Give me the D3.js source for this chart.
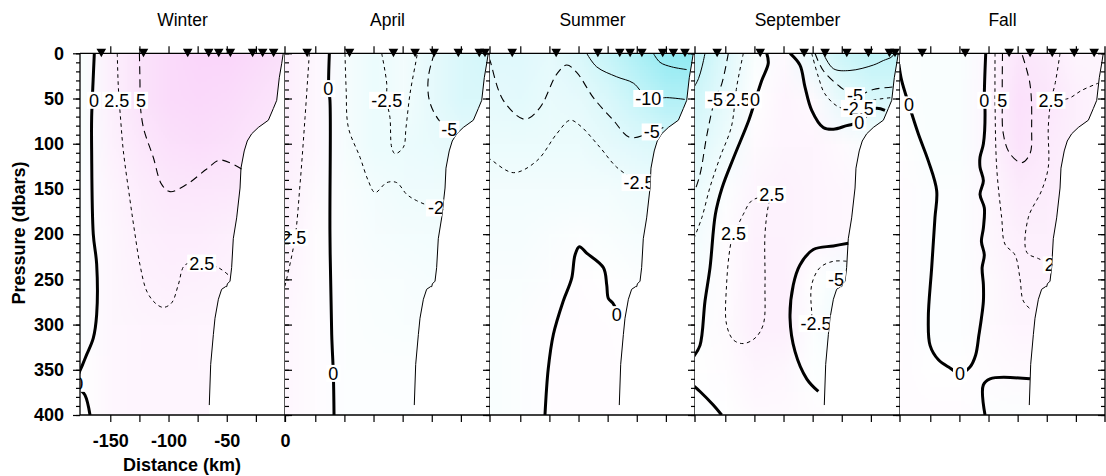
<!DOCTYPE html>
<html>
<head>
<meta charset="utf-8">
<script src="https://cdnjs.cloudflare.com/ajax/libs/d3/7.8.5/d3.min.js"></script>
<style>
  body { margin: 0; background: #fff; }
  svg { display: block; }
  text { font-family: "Liberation Sans", Arial, Helvetica, sans-serif; fill: #000; }
</style>
</head>
<body>
<div class="sections"></div>
<script>
// ---- data (distance km, pressure dbar) ----
var seasons = ['Winter', 'April', 'Summer', 'September', 'Fall'];
var pressureTicks = [0, 50, 100, 150, 200, 250, 300, 350, 400];
var distanceTicks = [-150, -100, -50, 0];

// shading grid: rows = gridDbar, cols = gridKm
var gridKm = [-175, -150, -125, -100, -75, -50, -25, 0];
var gridDbar = [0, 50, 100, 150, 200, 250, 300, 350, 400];
var winterGrid = [
  [-1, 3, 5.5, 7, 8, 8, 7, 6],
  [-1, 3, 5.5, 7, 7.5, 7, 6, 5],
  [-1, 2.5, 4.5, 6, 6.5, 6, 5, 4],
  [-0.5, 2, 3.5, 4.5, 4.7, 4.6, 4, 3],
  [-0.5, 1.5, 3, 3.5, 3.5, 3, 2.5, 2],
  [-0.5, 1.5, 2.5, 3, 2.7, 2.3, 2, 2],
  [-0.5, 1.5, 2, 2.2, 2, 2, 2, 2],
  [0, 1.5, 2, 2, 2, 2, 2, 2],
  [0, 1.5, 2, 2, 2, 2, 2, 2]
];
var aprilGrid = [
  [3, 1.5, -1.5, -3, -2, -4, -6, -7],
  [3, 1.5, -1.5, -3, -2, -4, -6, -6],
  [3, 1.5, -1.5, -3, -3, -3.5, -4, -4],
  [2.5, 1, -1, -2, -2.5, -2.6, -2.5, -2.5],
  [2.5, 0.5, -0.8, -1.5, -1.8, -2, -2, -2],
  [2, 0.5, -0.5, -1, -1.2, -1.5, -1.5, -1.5],
  [1.5, 0.5, -0.5, -0.8, -1, -1, -1, -1],
  [1.5, 0.5, -0.5, -0.5, -0.5, -0.5, -0.5, -0.5],
  [1.5, 0.5, -0.5, -0.5, -0.5, -0.5, -0.5, -0.5]
];
var summerGrid = [
  [-5, -5, -4, -6, -9, -13, -17, -18],
  [-4, -4.5, -3.5, -4, -6, -9, -12, -12],
  [-3, -3, -3, -3, -4, -5, -6, -6],
  [-2, -2, -2, -2, -2, -2.5, -3, -3],
  [-1.5, -1.5, -1, -0.5, -1, -1.5, -1.5, -1.5],
  [-1, -1, -0.5, 0.3, 0, -0.5, -0.5, -0.5],
  [-1, -0.5, 0.3, 0.5, 0.3, 0, 0, 0],
  [-1, -0.5, 0.3, 0.5, 0.5, 0, 0, 0],
  [-1, -0.5, 0.3, 0.5, 0.5, 0, 0, 0]
];
var septemberGrid = [
  [-10, -5, -1, 1, -4, -8, -10, -10],
  [-7, -4, 0, 2, 1, -4, -6, -6],
  [-5, -2.5, 1, 2, 2, 1, -1, -1],
  [-3, -0.5, 2, 2.5, 2, 1.5, 1, 1],
  [-2, 0.5, 2.5, 2.5, 2, 1.5, 1, 1],
  [-1, 0.5, 3, 3, 0, -2, -3, -3],
  [-0.5, 0.8, 3, 3, -0.5, -3, -3, -3],
  [0, 0.5, 2, 1.5, -0.3, -1, -1, -1],
  [-0.5, 0, 1, 1, 0.5, 0, 0, 0]
];
var fallGrid = [
  [-0.5, -1, -1, 1.5, 5, 4, 2, 2],
  [-0.5, -1, -1, 2, 6, 5, 3, 2],
  [0, -1, -1, 2, 5.5, 4, 3, 2],
  [0.5, -0.5, -0.5, 1.5, 4, 3.5, 2.5, 2],
  [0.5, -0.5, -0.5, 1.5, 3, 3, 2, 2],
  [0.5, -0.5, -0.5, 1, 2.5, 2.5, 2, 2],
  [0.5, -0.5, -0.5, 1, 2, 2, 2, 2],
  [0.5, 0, 0, 0.5, 1, 1, 1, 1],
  [0.5, 0.5, 0.5, -0.5, -0.5, 0, 0, 0]
];

// bottom profile (same section every season)
var bottomProfile = [[-1.5, 0], [-2.8, 11], [-4.9, 27], [-7.1, 52], [-10, 61], [-14.3, 74], [-22.9, 82],
  [-28.6, 89], [-32.4, 97], [-35, 108], [-37.8, 127], [-38.6, 149], [-41.5, 182], [-44.4, 205],
  [-45.8, 237], [-47.2, 252], [-49.5, 255], [-50, 258], [-51, 258], [-54.4, 261], [-57.2, 272],
  [-60.1, 293], [-61.5, 311], [-63.8, 344], [-65, 389]];

// station positions (km)
var winterStations = [-157.7, -121.5, -83.5, -65.5, -56.9, -46.9, -27.8, -19.2, -9.8];
var aprilStations = [-157, -120.6, -82.9, -64.3, -48, -27.2, -9.2, -4.3];
var summerStations = [-156.9, -119.2, -83.4, -64.6, -55.7, -45.6, -27.7, -18.6, -8.6];
var septemberStations = [-157, -120, -82.3, -64.3, -45.7, -27.1, -9.1, -4.3];
var fallStations = [-157, -120, -82.3, -64.3, -45.3, -26.4, -9.3];

// contour lines
var winterContours = [
  { level: 0, pts: [[-163.7, 0], [-164.6, 26], [-166, 71], [-166, 108], [-164.6, 200], [-161.7, 233], [-161.7, 289], [-164.6, 315], [-170.2, 333], [-173.7, 344], [-178, 358], [-178, 368], [-171.7, 378], [-167.4, 400]] },
  { level: 2.5, pts: [[-144, 0], [-143.1, 37], [-141, 75], [-138.8, 108], [-133, 163], [-128.8, 200], [-124.5, 234], [-118.7, 263], [-111.6, 276], [-104.5, 281], [-97.3, 276], [-91.6, 256], [-85.8, 234], [-71.5, 232], [-57.3, 237], [-48.7, 245]] },
  { level: 5, pts: [[-125, 0], [-124.5, 34], [-124.5, 52], [-121.6, 82], [-113.1, 115], [-105.9, 145], [-98.7, 153], [-84.4, 145], [-67.2, 128], [-55.8, 118], [-37.2, 128]] }
];
var aprilContours = [
  { level: 0, pts: [[-137.9, 0], [-138.5, 39], [-137.4, 52], [-137.4, 200], [-135.9, 311], [-134.5, 354], [-133.9, 400]] },
  { level: 2.5, pts: [[-155.1, 0], [-158.8, 71], [-163.1, 145], [-167.4, 204], [-174.5, 249], [-177, 262]] },
  { level: -2.5, pts: [[-124.5, 0], [-123.5, 40], [-121.6, 82], [-111.6, 115], [-104.5, 141], [-98.7, 154], [-88.7, 143], [-80.1, 143], [-71.5, 156], [-62.9, 163], [-47.2, 171], [-40, 173]] },
  { level: -2.5, pts: [[-93, 0], [-88.7, 33], [-88.7, 52], [-85.9, 71], [-84.4, 104], [-81.6, 111], [-74.4, 104], [-72.1, 82], [-68.7, 45], [-62.9, 4], [-62.5, 0]] },
  { level: -5, pts: [[-47.8, 0], [-52.9, 26], [-52.1, 52], [-44.4, 73], [-34.9, 84], [-30, 87]] }
];
var summerContours = [
  { level: 0, pts: [[-128.8, 400], [-126, 349], [-121.6, 311], [-113.1, 274], [-105.9, 249], [-103, 223], [-99.3, 214], [-93, 221], [-78.7, 237], [-75.8, 256], [-74.4, 271], [-70.7, 276], [-67, 285]] },
  { level: -2.5, pts: [[-178, 116], [-176, 117], [-156, 132], [-135.9, 119], [-118.7, 89], [-107.3, 74], [-98.7, 80], [-81.6, 104], [-67.2, 126], [-48, 143], [-44, 146]] },
  { level: -5, pts: [[-177, 5], [-176, 8], [-164.6, 52], [-146, 73], [-133.1, 60], [-118.7, 23], [-110.2, 13], [-101.6, 21], [-87.3, 49], [-70.1, 74], [-55.8, 93], [-37.2, 87], [-27.2, 82]] },
  { level: -10, pts: [[-93, 0], [-84.4, 15], [-67.2, 26], [-52.9, 33], [-40.1, 50], [-24.3, 49], [-8.6, 51]] },
  { level: -15, pts: [[-35.8, 0], [-30, 10], [-20, 15], [-7.1, 18]] }
];
var septemberContours = [
  { level: -10, pts: [[-167.4, 0], [-170, 15], [-173, 28], [-177, 38]] },
  { level: -5, pts: [[-147.4, 0], [-153.1, 34], [-158.8, 51], [-165.6, 89], [-171.7, 134], [-177, 155]] },
  { level: -2.5, pts: [[-134.5, 0], [-140.2, 37], [-141.5, 51], [-144.9, 82], [-154.5, 115], [-163.1, 148], [-170.2, 182], [-177, 205]] },
  { level: 0, pts: [[-114.4, 0], [-113.1, 11], [-118.7, 30], [-124, 51], [-129.8, 74], [-142.7, 115], [-152.8, 149], [-158.5, 178], [-163.1, 237], [-167.4, 274], [-171.7, 323], [-177, 335]] },
  { level: 0, pts: [[-177, 368], [-171.7, 374], [-160.3, 389], [-153.1, 400]] },
  { level: 0, pts: [[-94.4, 0], [-85.9, 13], [-81.6, 37], [-75.8, 63], [-65.9, 82], [-57.2, 84], [-45.8, 80], [-34.9, 76], [-21.5, 61], [-12.9, 63]] },
  { level: -2.5, pts: [[-75.8, 0], [-70.1, 26], [-64.4, 45], [-51.5, 60], [-37.2, 60], [-22.9, 52], [-7.1, 49]] },
  { level: -5, pts: [[-73, 0], [-65.9, 19], [-51.5, 37], [-38.6, 47], [-22.9, 40], [-4.3, 37]] },
  { level: -10, pts: [[-65.9, 0], [-57.2, 17], [-42.9, 19], [-22.9, 13], [-14.3, 8], [-7.1, 4], [-5, 0]] },
  { level: 2.5, pts: [[-110.2, 156], [-127.3, 163], [-134.5, 178], [-138.8, 189], [-143, 199], [-145.9, 215], [-148.9, 256], [-148.9, 300], [-143, 317], [-134.5, 321], [-124.5, 315], [-117.4, 300], [-115.9, 256], [-115.9, 200], [-113.1, 169], [-110.2, 156]] },
  { level: 0, pts: [[-44.4, 210], [-57.2, 213], [-74.4, 217], [-85.9, 234], [-91.6, 256], [-94.4, 293], [-90.1, 330], [-80.1, 360], [-70.1, 374]] },
  { level: -2.5, pts: [[-45.8, 230], [-57.2, 230], [-68.7, 237], [-75.8, 256], [-75.8, 286], [-74.4, 299], [-64.4, 302]] },
  { level: -5, pts: [[-48, 243], [-55, 250], [-50, 256]] }
];
var fallContours = [
  { level: 0, pts: [[-177, 12], [-174.6, 30], [-168.3, 57], [-160.3, 89], [-151.7, 119], [-144.5, 152], [-146, 182], [-148.8, 237], [-151.7, 293], [-150.2, 323], [-143, 339], [-133.1, 348], [-124.5, 354], [-115.9, 347], [-111.1, 334], [-108.2, 311], [-106.1, 293], [-104.4, 274], [-104.4, 256], [-105.5, 237], [-103.6, 223], [-106.1, 208], [-104.4, 193], [-103.6, 171], [-107.3, 156], [-104.4, 141], [-107.3, 126], [-107.3, 115], [-104.4, 100], [-103, 63], [-103.6, 52], [-102.4, 0]] },
  { level: 0, pts: [[-103, 400], [-104.5, 367], [-98.7, 360], [-64.4, 360]] },
  { level: 5, pts: [[-88, 0], [-88.2, 52], [-87.3, 89], [-81.6, 111], [-71.5, 121], [-64.4, 111], [-63, 82], [-64.4, 34], [-71.5, 0]] },
  { level: 2.5, pts: [[-94.4, 0], [-94.4, 52], [-93, 126], [-88.7, 182], [-85.9, 211], [-77.3, 223], [-73, 249], [-70.1, 274], [-63, 284]] },
  { level: 2.5, pts: [[-38.6, 0], [-42.9, 34], [-46.4, 52], [-48.7, 82], [-48.7, 126], [-54.5, 152], [-65.9, 182], [-67.2, 220], [-57.2, 227], [-45, 234]] },
  { level: 2.5, pts: [[-46.4, 52], [-31.5, 50], [-20, 41], [-5.8, 33]] }
];

// contour labels [km, dbar, text]
var winterLabels = [[-164, 52, '0'], [-144.5, 52, '2.5'], [-123.6, 52, '5'], [-71.5, 232, '2.5'], [-177.5, 365, '0']];
var aprilLabels = [[-138.8, 39, '0'], [-88.7, 52, '-2.5'], [-34.9, 84, '-5'], [-40, 171, '-2.5'], [-168.5, 204, '2.5'], [-134.5, 354, '0']];
var summerLabels = [[-40.1, 50, '-10'], [-37.2, 87, '-5'], [-48, 143, '-2.5'], [-67.2, 289, '0']];
var septemberLabels = [[-141.4, 51.5, '-2.5'], [-158.8, 51.5, '-5'], [-124.5, 51.5, '0'], [-38.6, 47, '-5'], [-35.8, 61, '-2.5'], [-34.9, 76, '0'],
  [-110.2, 156, '2.5'], [-143, 199, '2.5'], [-55, 250, '-5'], [-72, 299, '-2.5']];
var fallLabels = [[-168.3, 57, '0'], [-103.6, 52, '0'], [-88.2, 52, '5'], [-46.4, 52, '2.5'], [-41, 234, '2.5'], [-124.5, 354, '0']];

// ---- layout ----
var margin = { top: 53.3, left: 80 };
var panelW = 205, panelH = 361.7;
var width = 1106, height = 476;

var panels = [
  { name: seasons[0], grid: winterGrid, contours: winterContours, labels: winterLabels, stations: winterStations },
  { name: seasons[1], grid: aprilGrid, contours: aprilContours, labels: aprilLabels, stations: aprilStations },
  { name: seasons[2], grid: summerGrid, contours: summerContours, labels: summerLabels, stations: summerStations },
  { name: seasons[3], grid: septemberGrid, contours: septemberContours, labels: septemberLabels, stations: septemberStations },
  { name: seasons[4], grid: fallGrid, contours: fallContours, labels: fallLabels, stations: fallStations }
];

var svg = d3.select('.sections')
  .append('svg')
    .attr('width', width)
    .attr('height', height);

var defs = svg.append('defs');

var yScale = d3.scaleLinear()
  .domain([0, 400])
  .range([margin.top, margin.top + panelH]);

// value -> colour (pink for positive, cyan for negative)
function shade(v) {
  if (v >= 0) return d3.interpolateRgb('#ffffff', '#f7c2f7')(Math.min(v / 12, 1));
  return d3.interpolateRgb('#ffffff', '#82e8f1')(Math.min(-v / 20, 1));
}

function lineStyle(level) {
  if (level === 0) return { w: 3, dash: null };
  if (Math.abs(level) === 2.5) return { w: 1, dash: '3.5,3.5' };
  if (Math.abs(level) === 5) return { w: 1.1, dash: '8,5' };
  return { w: 1, dash: null };
}

panels.forEach(function (p, i) {
  var x0 = margin.left + i * panelW;
  var xScale = d3.scaleLinear()
    .domain([-176, 0])
    .range([x0, x0 + panelW]);

  var line = d3.line()
    .x(d => xScale(d[0]))
    .y(d => yScale(d[1]));

  // clip paths: whole panel, and water column left of the bottom profile
  defs.append('clipPath').attr('id', 'panel' + i)
    .append('rect')
      .attr('x', x0).attr('y', margin.top)
      .attr('width', panelW).attr('height', panelH);
  var water = [[-176, 0]].concat(bottomProfile, [[-65, 400], [-176, 400]]);
  defs.append('clipPath').attr('id', 'water' + i)
    .append('path')
      .attr('d', line(water) + 'Z');

  // shading: small grid drawn to a canvas, stretched (smoothed) over the panel
  var canvas = document.createElement('canvas');
  canvas.width = gridKm.length;
  canvas.height = gridDbar.length;
  var ctx = canvas.getContext('2d');
  var img = ctx.createImageData(canvas.width, canvas.height);
  p.grid.forEach(function (row, r) {
    row.forEach(function (v, c) {
      var col = d3.rgb(shade(v));
      var k = (r * canvas.width + c) * 4;
      img.data[k] = col.r; img.data[k + 1] = col.g; img.data[k + 2] = col.b; img.data[k + 3] = 255;
    });
  });
  ctx.putImageData(img, 0, 0);
  svg.append('image')
    .attr('href', canvas.toDataURL())
    .attr('x', xScale(gridKm[0] - 12.5))
    .attr('y', yScale(gridDbar[0] - 25))
    .attr('width', xScale(12.5) - xScale(gridKm[0] - 12.5))
    .attr('height', yScale(425) - yScale(-25))
    .attr('preserveAspectRatio', 'none')
    .attr('clip-path', 'url(#water' + i + ')');

  // contours
  var cg = svg.append('g').attr('clip-path', 'url(#panel' + i + ')');
  cg.selectAll('path.contour')
    .data(p.contours)
    .enter()
    .append('path')
      .attr('class', 'contour')
      .attr('d', d => line.curve(d3.curveCatmullRom.alpha(0.5))(d.pts))
      .attr('fill', 'none')
      .attr('stroke', '#000')
      .attr('stroke-width', d => lineStyle(d.level).w)
      .attr('stroke-dasharray', d => lineStyle(d.level).dash)
      .attr('stroke-linejoin', 'round');
  line.curve(d3.curveLinear);

  // bottom profile
  cg.append('path')
    .attr('d', line(bottomProfile))
    .attr('fill', 'none')
    .attr('stroke', '#000')
    .attr('stroke-width', 1);

  // contour labels with white boxes
  var lg = svg.append('g').attr('clip-path', 'url(#water' + i + ')');
  p.labels.forEach(function (l) {
    var g = lg.append('g');
    var t = g.append('text')
      .attr('x', xScale(l[0]))
      .attr('y', yScale(l[1]) + 6.5)
      .attr('text-anchor', 'middle')
      .style('font-size', '18px')
      .text(l[2]);
    var bb = t.node().getBBox();
    g.insert('rect', 'text')
      .attr('x', bb.x - 2)
      .attr('y', yScale(l[1]) - 8.5)
      .attr('width', bb.width + 4)
      .attr('height', 17)
      .attr('fill', '#fff');
  });

  // frame
  svg.append('line')
    .attr('x1', x0).attr('x2', x0 + panelW)
    .attr('y1', margin.top).attr('y2', margin.top)
    .attr('stroke', '#000').attr('stroke-width', 1.3);
  svg.append('line')
    .attr('x1', x0).attr('x2', x0 + panelW)
    .attr('y1', margin.top + panelH).attr('y2', margin.top + panelH)
    .attr('stroke', '#000').attr('stroke-width', 1.3);
  svg.append('line')
    .attr('x1', x0 + panelW).attr('x2', x0 + panelW)
    .attr('y1', margin.top - 7).attr('y2', margin.top + panelH + 7)
    .attr('stroke', '#000').attr('stroke-width', 1.3);

  // top and bottom ticks every 25 km
  var kmTicks = d3.range(-150, 0, 25);
  var bottomAxis = d3.axisBottom(xScale)
    .tickValues(i === 0 ? kmTicks.concat([0]) : kmTicks)
    .tickSize(7)
    .tickPadding(12)
    .tickFormat(d => (i === 0 && distanceTicks.indexOf(d) >= 0) ? d : '');
  svg.append('g')
    .attr('class', 'axis')
    .attr('transform', `translate(0, ${margin.top + panelH})`)
    .call(bottomAxis);
  svg.append('g')
    .attr('class', 'axis')
    .attr('transform', `translate(0, ${margin.top})`)
    .call(d3.axisTop(xScale).tickValues(kmTicks).tickSize(7).tickFormat(''));

  // stations
  svg.selectAll('path.station' + i)
    .data(p.stations)
    .enter()
    .append('path')
      .attr('class', 'station' + i)
      .attr('d', d => {
        var x = xScale(d), y = margin.top;
        return `M${x - 4.8},${y - 4.5}L${x + 4.8},${y - 4.5}L${x},${y + 4}Z`;
      })
      .attr('fill', '#000');

  // title
  svg.append('text')
    .attr('x', x0 + panelW / 2)
    .attr('y', 26)
    .attr('text-anchor', 'middle')
    .style('font-size', '17.5px')
    .text(p.name);
});

// pressure axis on the left
var x0 = margin.left;
svg.append('g')
  .attr('class', 'axis')
  .attr('transform', `translate(${x0}, 0)`)
  .call(d3.axisLeft(yScale).tickValues(pressureTicks).tickSize(7).tickPadding(9));
svg.append('g')
  .attr('class', 'axis')
  .attr('transform', `translate(${x0}, 0)`)
  .call(d3.axisLeft(yScale).tickValues(d3.range(0, 401, 10)).tickSize(4).tickFormat(''));

// inner tick columns on the panel edges
var tickEdges = [
  { x: margin.left + panelW, dir: 1 },
  { x: margin.left + 2 * panelW, dir: -1 },
  { x: margin.left + 3 * panelW, dir: -1 },
  { x: margin.left + 4 * panelW, dir: -1 },
  { x: margin.left + 5 * panelW, dir: -1 }
];
tickEdges.forEach(function (e) {
  var ax = e.dir > 0 ? d3.axisRight : d3.axisLeft;
  svg.append('g').attr('class', 'axis')
    .attr('transform', `translate(${e.x}, 0)`)
    .call(ax(yScale).tickValues(pressureTicks).tickSize(7).tickFormat(''));
  svg.append('g').attr('class', 'axis')
    .attr('transform', `translate(${e.x}, 0)`)
    .call(ax(yScale).tickValues(d3.range(0, 401, 10)).tickSize(4).tickFormat(''));
});

svg.selectAll('.axis .domain').remove();
svg.selectAll('.axis line').attr('stroke', '#000').attr('stroke-width', 1.2);
svg.selectAll('.axis text')
  .style('font-size', '18px')
  .style('font-weight', 'bold')
  .attr('fill', '#000');
svg.append('line')
  .attr('x1', x0).attr('x2', x0)
  .attr('y1', margin.top).attr('y2', margin.top + panelH)
  .attr('stroke', '#000').attr('stroke-width', 1.3);

// axis titles
svg.append('text')
  .attr('transform', 'translate(25, 233) rotate(-90)')
  .attr('text-anchor', 'middle')
  .style('font-size', '18px')
  .style('font-weight', 'bold')
  .text('Pressure (dbars)');
svg.append('text')
  .attr('x', 182)
  .attr('y', 471)
  .attr('text-anchor', 'middle')
  .style('font-size', '18px')
  .style('font-weight', 'bold')
  .text('Distance (km)');
</script>
</body>
</html>
